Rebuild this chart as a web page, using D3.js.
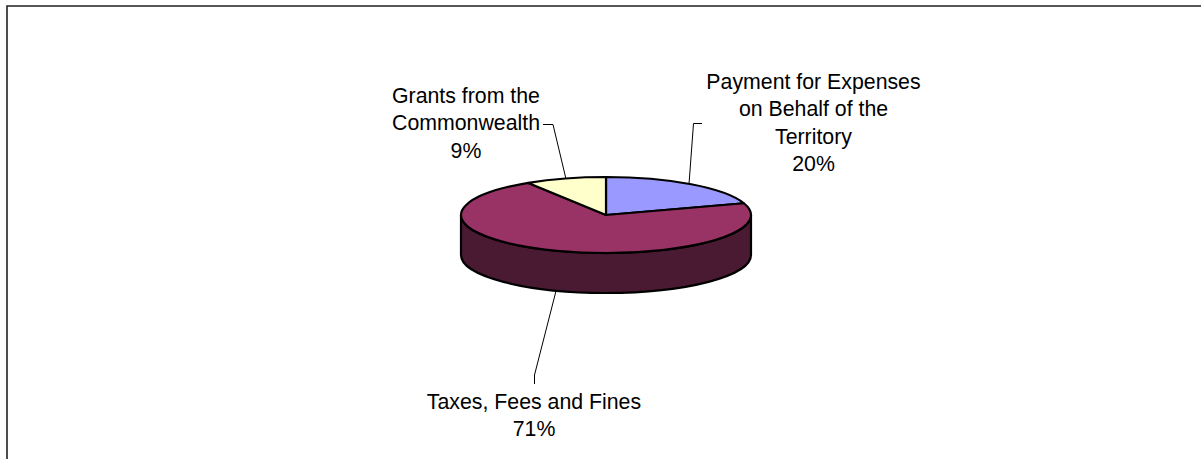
<!DOCTYPE html>
<html>
<head>
<meta charset="utf-8">
<script src="https://cdn.jsdelivr.net/npm/d3@7/dist/d3.min.js"></script>
<style>
  html, body { margin: 0; padding: 0; background: #fff; overflow: hidden; }
  text { font-family: "Liberation Sans", Arial, sans-serif; font-size: 21.3px; fill: #000; }
</style>
</head>
<body>
<svg id="chart" width="1201" height="459"></svg>
<script>
// Revenue sources, in percent, clockwise from twelve o'clock.
const categories = ["Payment for Expenses on Behalf of the Territory", "Taxes, Fees and Fines", "Grants from the Commonwealth"];
const shares = [20, 71, 9];
const topColors = ["#9999ff", "#993366", "#ffffcc"];
const wallColor = "#4a1a33";
const labelLines = [
  ["Payment for Expenses", "on Behalf of the", "Territory", "20%"],
  ["Taxes, Fees and Fines", "71%"],
  ["Grants from the", "Commonwealth", "9%"]
];

const svg = d3.select("#chart");

// Chart border: only the top and left edges fall inside the page.
svg.append("path")
  .attr("d", "M7,459V6H1201")
  .attr("fill", "none")
  .attr("stroke", "#222")
  .attr("stroke-width", 1.6);

// Tilted pie geometry.
const cx = 606, cy = 215, rx = 145, ry = 38, depth = 40;

// Leader lines sit under the pie.
const leaders = [
  [[702, 123.5], [693.5, 123.5], [689, 184]],
  [[534.5, 384], [534.5, 375], [556, 291]],
  [[543, 124.5], [553, 124.5], [566, 179]]
];
const line = d3.line();
svg.append("g").selectAll("path").data(leaders).join("path")
  .attr("d", d => line(d))
  .attr("fill", "none")
  .attr("stroke", "#000")
  .attr("stroke-width", 1);

// Side wall of the disc, only the front half is visible.
svg.append("path")
  .attr("d", `M${cx - rx},${cy}V${cy + depth}A${rx},${ry} 0 0 0 ${cx + rx},${cy + depth}V${cy}A${rx},${ry} 0 0 1 ${cx - rx},${cy}Z`)
  .attr("fill", wallColor)
  .attr("stroke", "#000")
  .attr("stroke-width", 2.2);

// Top face: a regular pie squashed vertically, with the stroke kept uniform.
const pie = d3.pie().sort(null).startAngle(0).endAngle(2 * Math.PI);
const arc = d3.arc().innerRadius(0).outerRadius(rx);
svg.append("g")
  .attr("transform", `translate(${cx},${cy}) scale(1,${ry / rx})`)
  .selectAll("path")
  .data(pie(shares))
  .join("path")
  .attr("d", arc)
  .attr("fill", (d, i) => topColors[i])
  .attr("stroke", "#000")
  .attr("stroke-width", 2.2)
  .attr("stroke-linejoin", "round")
  .attr("vector-effect", "non-scaling-stroke");

// Multi-line data labels, centred on their anchors.
const labelAnchors = [[813.5, 89], [534, 409], [466, 103]];
const lineHeight = 27.3;
labelLines.forEach((lines, i) => {
  const t = svg.append("text").attr("text-anchor", "middle");
  lines.forEach((s, j) => {
    t.append("tspan")
      .attr("x", labelAnchors[i][0])
      .attr("y", labelAnchors[i][1] + j * lineHeight)
      .text(s);
  });
});
</script>
</body>
</html>
